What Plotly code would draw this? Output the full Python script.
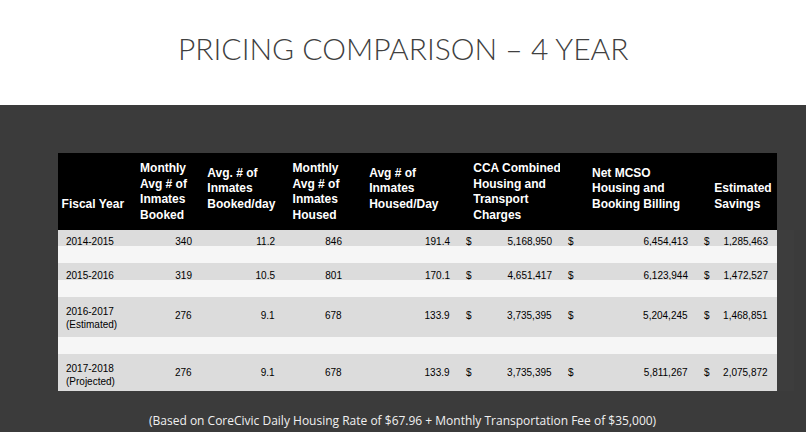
import plotly.graph_objects as go

fiscal_year = ["2014-2015", "2015-2016", "2016-2017<br>(Estimated)", "2017-2018<br>(Projected)"]
booked = [340, 319, 276, 276]
booked_day = [11.2, 10.5, 9.1, 9.1]
housed = [846, 801, 678, 678]
housed_day = [191.4, 170.1, 133.9, 133.9]
cca_charges = [5168950, 4651417, 3735395, 3735395]
mcso_billing = [6454413, 6123944, 5204245, 5811267]
savings = [1285463, 1472527, 1468851, 2075872]

headers = ["<br><br><br>Fiscal Year", "Monthly<br>Avg # of<br>Inmates<br>Booked", "<br>Avg. # of<br>Inmates<br>Booked/day",
           "Monthly<br>Avg # of<br>Inmates<br>Housed", "<br>Avg # of<br>Inmates<br>Housed/Day", "",
           "CCA Combined<br>Housing and<br>Transport<br>Charges", "", "<br>Net MCSO<br>Housing and<br>Booking Billing",
           "", "<br><br>Estimated<br>Savings"]


def spaced(vals):
    # data row followed by a blank white spacer row
    out = []
    for i, v in enumerate(vals):
        out.append(v)
        if i < len(vals) - 1:
            out.append("")
    return out


two_line = ["<br>" in f for f in fiscal_year]


def col(vals, fmt):
    return spaced([("<br>" if t else "") + fmt(v) for v, t in zip(vals, two_line)])


dollar = spaced([("<br>" if t else "") + "$" for t in two_line])
columns = [
    spaced(fiscal_year),
    col(booked, str),
    col(booked_day, lambda v: f"{v:.1f}"),
    col(housed, str),
    col(housed_day, lambda v: f"{v:.1f}"),
    dollar,
    col(cca_charges, lambda v: f"{v:,}"),
    dollar,
    col(mcso_billing, lambda v: f"{v:,}"),
    dollar,
    col(savings, lambda v: f"{v:,}"),
]
row_fill = ["#dcdcdc" if i % 2 == 0 else "#f6f6f6" for i in range(len(columns[0]))]

fig = go.Figure(go.Table(
    domain=dict(x=[58 / 806, 776 / 806], y=[1 - 392 / 432, 1 - 153 / 432]),
    columnwidth=[70, 72, 83, 67, 108, 16, 86, 16, 120, 14, 66],
    header=dict(values=headers, fill_color="black", line_color="black", height=20,
                align="center",
                font=dict(family="Liberation Sans", size=12, color="white", weight="bold")),
    cells=dict(values=columns, fill_color=[row_fill] * 11, line_color=[row_fill] * 11, height=17,
               align=["left", "right", "right", "right", "right", "left", "right", "left", "right", "left", "right"],
               font=dict(family="Liberation Sans", size=10, color="black")),
))

fig.add_shape(type="rect", xref="paper", yref="paper", x0=0, x1=1, y0=0, y1=1 - 105 / 432,
              fillcolor="#3b3b3b", line_width=0, layer="below")
fig.add_annotation(text="PRICING COMPARISON – 4 YEAR", xref="paper", yref="paper", x=0.5, y=1 - 48 / 432,
                   yanchor="middle", showarrow=False, font=dict(family="Lato", size=30, color="#404040", weight=300))
fig.add_annotation(text="(Based on CoreCivic Daily Housing Rate of $67.96 + Monthly Transportation Fee of $35,000)",
                   xref="paper", yref="paper", x=0.5, y=1 - 420 / 432, yanchor="middle", showarrow=False,
                   font=dict(family="Open Sans", size=12, color="#f0f0f0"))

fig.update_layout(width=806, height=432, margin=dict(l=0, r=0, t=0, b=0),
                  paper_bgcolor="white", plot_bgcolor="white")
fig.write_html("out.html", config={"displayModeBar": False},
               post_script="document.body.style.margin='0';")
